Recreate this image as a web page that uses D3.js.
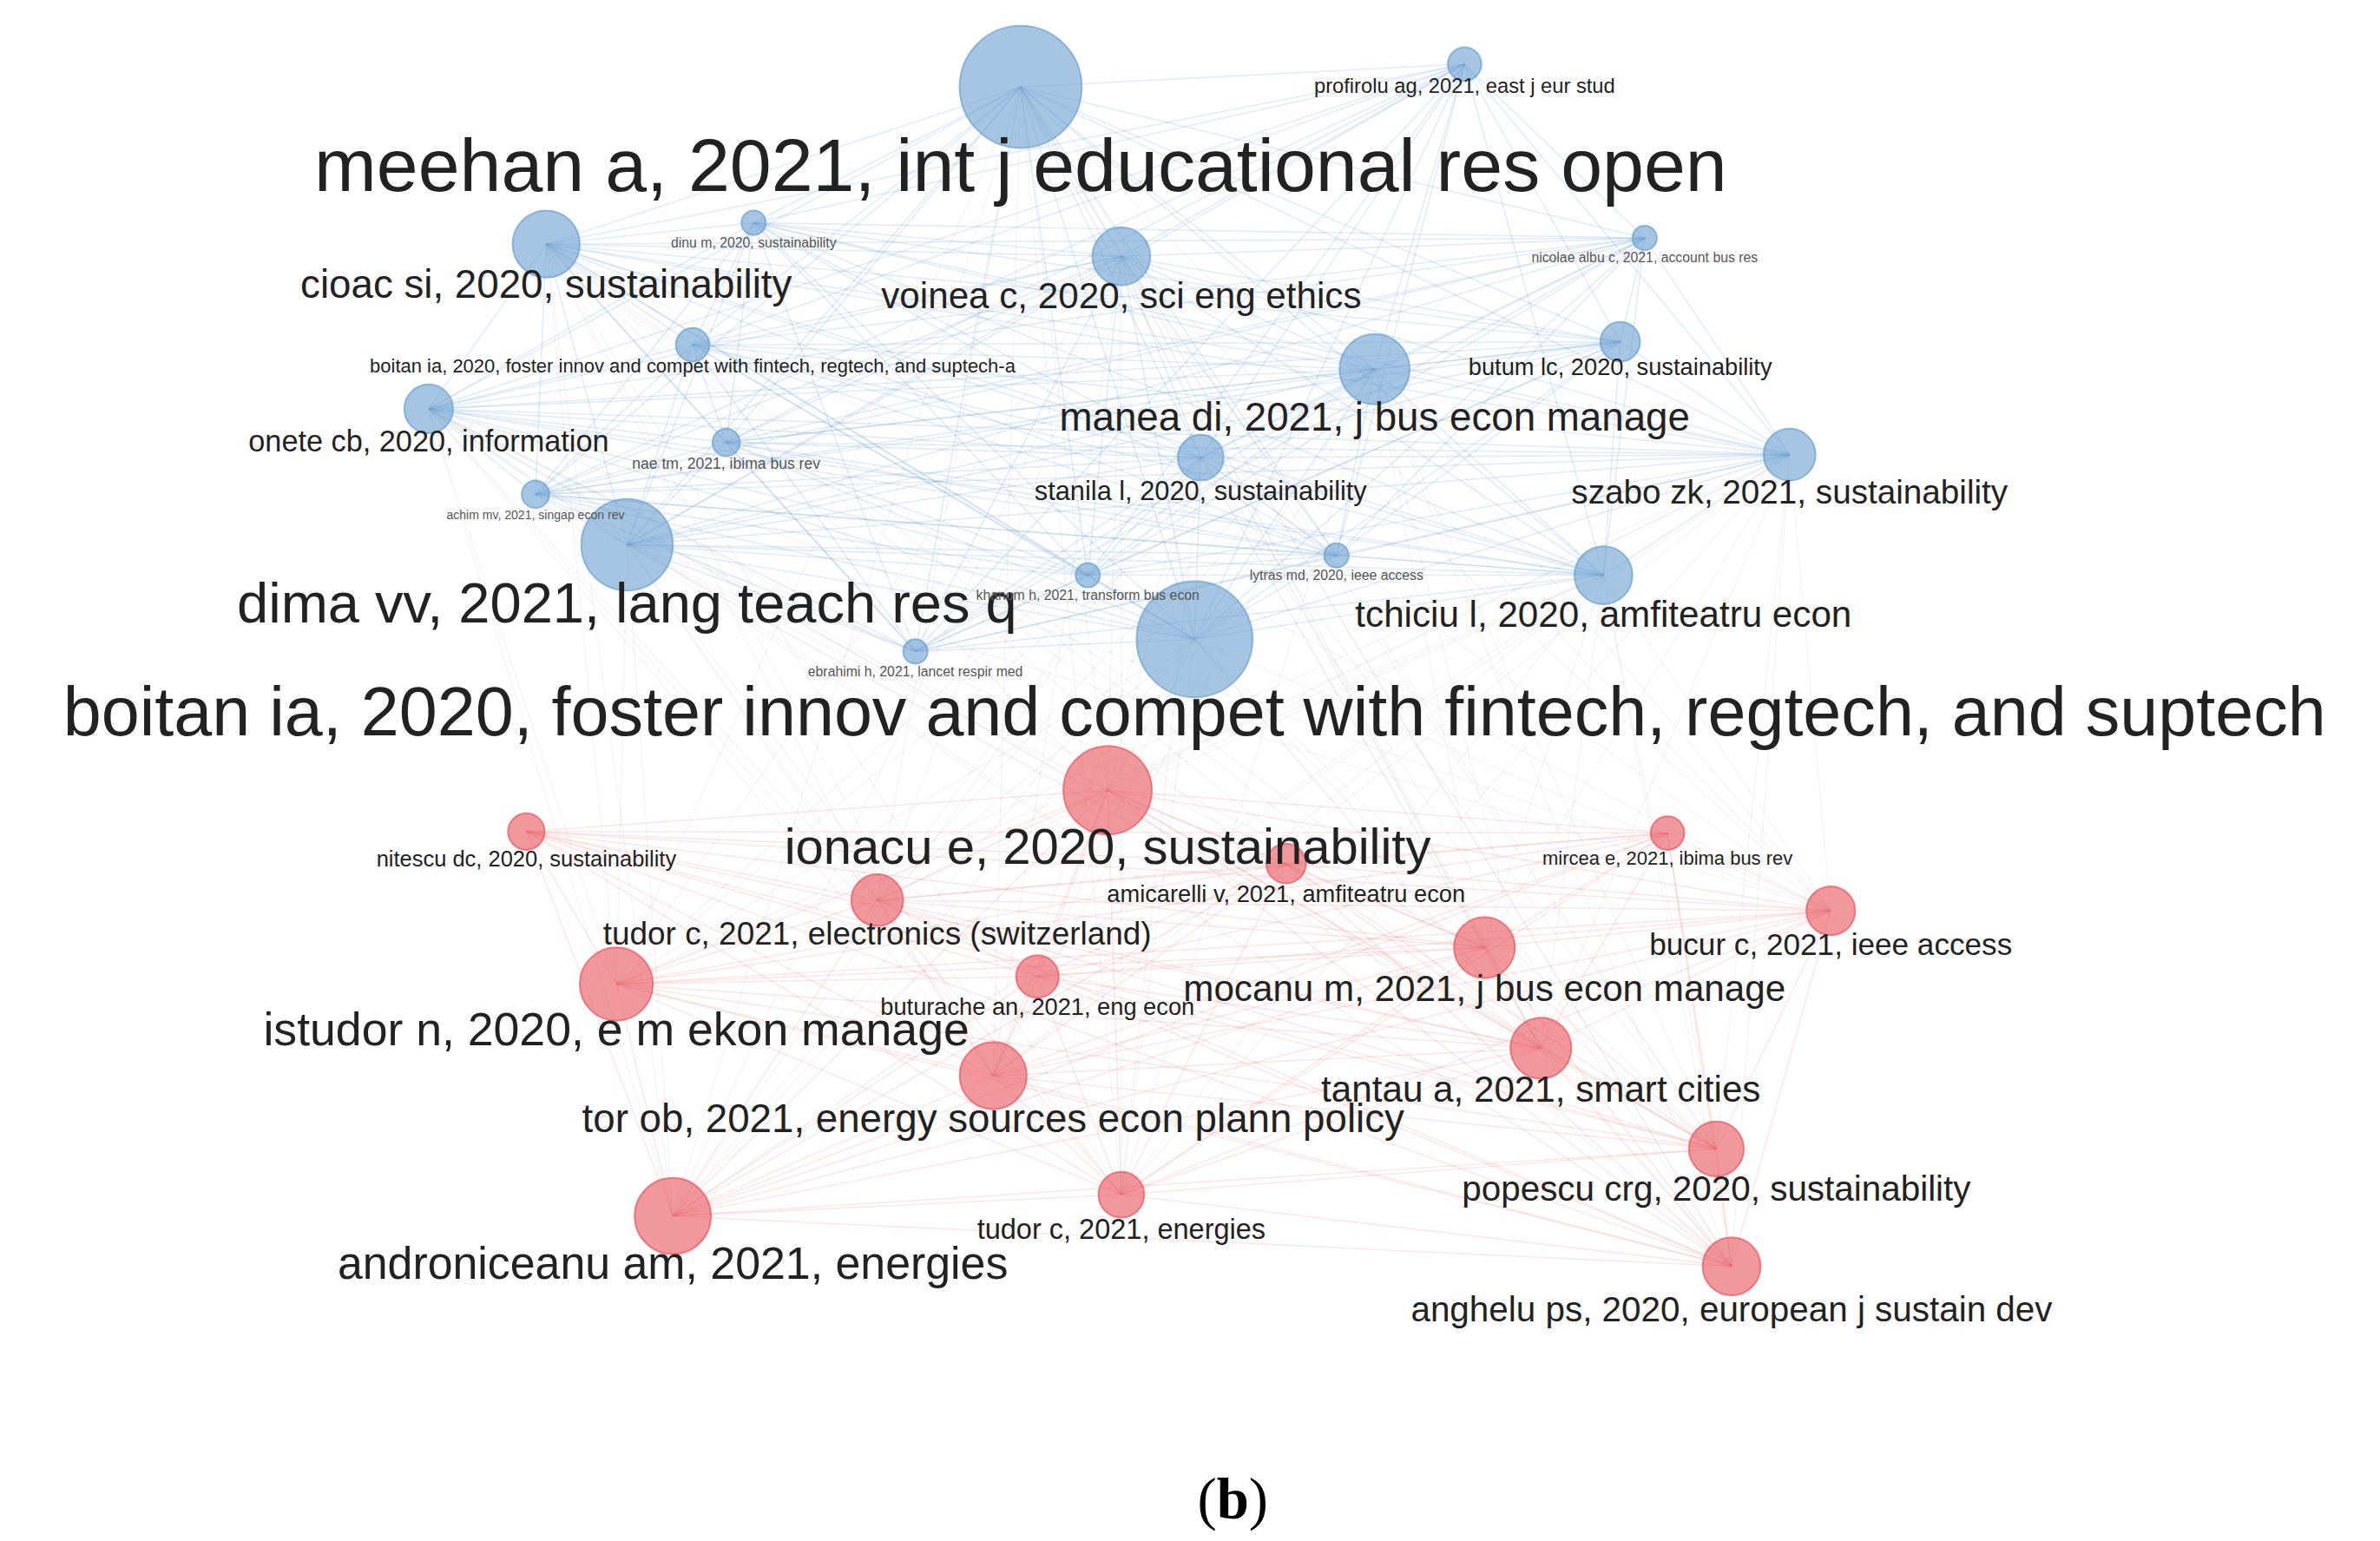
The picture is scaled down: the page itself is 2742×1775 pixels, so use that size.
<!DOCTYPE html>
<html><head><meta charset="utf-8">
<script src="https://cdn.jsdelivr.net/npm/d3@7"></script>
<style>body{margin:0;background:#fff}svg{display:block}</style>
</head><body>
<script>
// node data (reference coords, ~1560 wide), cluster 0 = blue, 1 = red
var labels = [
  "meehan a, 2021, int j educational res open","profirolu ag, 2021, east j eur stud","cioac si, 2020, sustainability",
  "dinu m, 2020, sustainability","voinea c, 2020, sci eng ethics","nicolae albu c, 2021, account bus res",
  "boitan ia, 2020, foster innov and compet with fintech, regtech, and suptech-a","manea di, 2021, j bus econ manage",
  "butum lc, 2020, sustainability","onete cb, 2020, information","nae tm, 2021, ibima bus rev",
  "stanila l, 2020, sustainability","szabo zk, 2021, sustainability","achim mv, 2021, singap econ rev",
  "dima vv, 2021, lang teach res q","lytras md, 2020, ieee access","khanom h, 2021, transform bus econ",
  "tchiciu l, 2020, amfiteatru econ","boitan ia, 2020, foster innov and compet with fintech, regtech, and suptech",
  "ebrahimi h, 2021, lancet respir med",
  "ionacu e, 2020, sustainability","nitescu dc, 2020, sustainability","mircea e, 2021, ibima bus rev",
  "amicarelli v, 2021, amfiteatru econ","tudor c, 2021, electronics (switzerland)","bucur c, 2021, ieee access",
  "mocanu m, 2021, j bus econ manage","buturache an, 2021, eng econ","istudor n, 2020, e m ekon manage",
  "tantau a, 2021, smart cities","tor ob, 2021, energy sources econ plann policy","popescu crg, 2020, sustainability",
  "tudor c, 2021, energies","androniceanu am, 2021, energies","anghelu ps, 2020, european j sustain dev"
];
var cluster = [0,0,0,0,0,0,0,0,0,0,0,0,0,0,0,0,0,0,0,0,1,1,1,1,1,1,1,1,1,1,1,1,1,1,1];
var nodeX = [669,960,358,494,735,1078,454,901,1062,281,476,787,1173,351,411,876,713,1051,783,600,
             726,345,1093,843,575,1200,973,680,404,1010,651,1125,735,441,1135];
var nodeY = [57,42,160,146,168,156,226,242,224,268,290,300,298,324,357,364,377,377,419,427,
             518,545,546,566,590,597,621,640,645,687,705,753,783,797,830];
var weight = [40,11,22,8,19,8,11,23,13,16,9,15,17,9,30,8,8,19,38,8,
              29,12,11,13,17,16,20,14,24,20,22,18,15,25,19];
var labelSize = [49,13.5,26,9,24,9,12.5,26,15.5,19.5,10,17.5,22,8,37,9,9,24,45,9,
                 33,14.5,12.5,15.5,21,20,24,15.5,30.5,24,26,23,18.5,29.5,23];
var labelY = [125,61,195,162,202,172,244,282,246,296,307,328,330,340,408,380,393,411,482,443,
              566,568,567,591,619,626,656,665,685,722,742,787,812,838,866];

var W = 2742, H = 1775;
var x = d3.scaleLinear().domain([0, 1560]).range([0, W]);
var y = d3.scaleLinear().domain([0, 1010]).range([0, H]);
var k = W / 1560;
var fills = ["#6a9fd0", "#e8545c"];
var edgeCols = ["rgba(110,160,215,0.2)", "rgba(235,110,115,0.16)"];

var svg = d3.select("body").append("svg").attr("width", W).attr("height", H);
var nodes = labels.map(function(l, i) { return {i: i, c: cluster[i]}; });

// edges: all pairs within a cluster, plus faint grey links between cluster hubs
var edges = [];
nodes.forEach(function(a) {
  nodes.forEach(function(b) {
    if (b.i <= a.i) return;
    if (a.c === b.c) edges.push({a: a.i, b: b.i, col: edgeCols[a.c], w: 1.6});
    else if ((weight[a.i] >= 15 && weight[b.i] >= 15)) edges.push({a: a.i, b: b.i, col: "rgba(170,170,170,0.12)", w: 1.4});
  });
});
svg.append("g").selectAll("line").data(edges).enter().append("line")
  .attr("x1", function(d) { return x(nodeX[d.a]); }).attr("y1", function(d) { return y(nodeY[d.a]); })
  .attr("x2", function(d) { return x(nodeX[d.b]); }).attr("y2", function(d) { return y(nodeY[d.b]); })
  .attr("stroke", function(d) { return d.col; }).attr("stroke-width", function(d) { return d.w; });

svg.append("g").selectAll("circle").data(nodes).enter().append("circle")
  .attr("cx", function(d) { return x(nodeX[d.i]); }).attr("cy", function(d) { return y(nodeY[d.i]); })
  .attr("r", function(d) { return weight[d.i] * k; })
  .attr("fill", function(d) { return fills[d.c]; }).attr("fill-opacity", 0.6)
  .attr("stroke", function(d) { return fills[d.c]; }).attr("stroke-opacity", 0.7).attr("stroke-width", 2);

svg.append("g").selectAll("text").data(nodes).enter().append("text")
  .attr("x", function(d) { return x(nodeX[d.i]); }).attr("y", function(d) { return y(labelY[d.i]); })
  .attr("text-anchor", "middle")
  .attr("font-family", "Liberation Sans, Arial, sans-serif")
  .attr("font-size", function(d) { return labelSize[d.i] * k; })
  .attr("fill", function(d) { return labelSize[d.i] < 12 ? "#555" : "#222"; })
  .text(function(d) { return labels[d.i]; });

svg.append("text").attr("x", x(808)).attr("y", y(995)).attr("text-anchor", "middle")
  .attr("font-family", "Liberation Serif, Times New Roman, serif").attr("font-size", 38 * k)
  .html("(<tspan font-weight='bold'>b</tspan>)");
</script>
</body></html>
